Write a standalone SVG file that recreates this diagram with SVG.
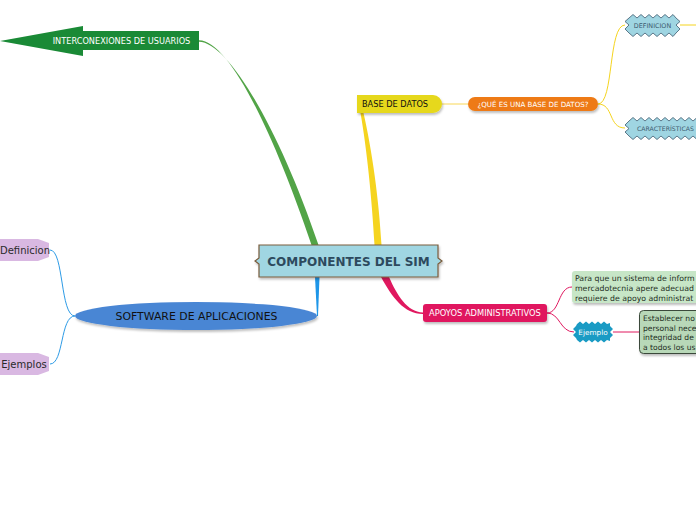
<svg xmlns="http://www.w3.org/2000/svg" width="696" height="520" viewBox="0 0 696 520">
<defs>
<filter id="sh" x="-20%" y="-20%" width="140%" height="160%">
<feDropShadow dx="1" dy="2" stdDeviation="1" flood-color="#000" flood-opacity="0.25"/>
</filter>
</defs>
<style>
text{font-family:"DejaVu Sans","Liberation Sans",sans-serif;}
.w{fill:#fff;}
.thin{fill:none;stroke-width:1;}
</style>
<rect width="696" height="520" fill="#fff"/>
<g id="connectors">
<path d="M199,40.3 C228,40 272,128 311.5,245 L318.5,245 C279,128 228,42 199,41.7 Z" fill="#52a447"/>
<path d="M360.5,113 C367,150 372,200 374.5,245 L381.5,245 C379,200 372,150 363.5,113 Z" fill="#f5d41f"/>
<path d="M315,277 L319.5,277 L318,316 L317,316 Z" fill="#1e96e8"/>
<path d="M381,277 C392,297 404,314 423,314 L423,312.5 C407,312 397,295 389,277 Z" fill="#e0185f"/>
<path class="thin" stroke="#f8d757" d="M442,104 L468,104"/>
<path class="thin" stroke="#f5d41f" d="M598,104 C614,104 608,25 625,25"/>
<path class="thin" stroke="#f5d41f" d="M598,104 C614,104 608,128 625,128"/>
<path class="thin" stroke="#f5d41f" d="M680,25 L696,25"/>
<path class="thin" stroke="#2d9be6" d="M75,316 C60,316 64,250 50,250"/>
<path class="thin" stroke="#2d9be6" d="M75,316 C60,316 64,364 50,364"/>
<path class="thin" stroke="#e0185f" d="M547,313 C560,313 558,287 572,287"/>
<path class="thin" stroke="#e0185f" d="M547,313 C560,313 560,332 574,332"/>
<path class="thin" stroke="#e0185f" d="M613,332 L640,332"/>
</g>
<g id="central">
<path d="M259,245 H438 V258 L442,261 L438,264 V277 H259 V264 L255,261 L259,258 Z" fill="#a0d6e2" stroke="#7a5c3c" stroke-width="1.2" filter="url(#sh)"/>
<text x="348.5" y="265.5" text-anchor="middle" font-size="12" font-weight="bold" fill="#2d4a5e">COMPONENTES DEL SIM</text>
</g>
<g id="interconexiones">
<path d="M0,41 L83,26 V31 H199 V50 H83 V56 Z" fill="#1a8a36"/>
<text x="121.5" y="44" text-anchor="middle" font-size="8.2" class="w">INTERCONEXIONES DE USUARIOS</text>
</g>
<g id="base-datos">
<path d="M357,95 H433 A9,9 0 0 1 442,104 A9,9 0 0 1 433,113 H357 Z" fill="#e6d81c" filter="url(#sh)"/>
<text x="362" y="107" font-size="8.2" fill="#111">BASE DE DATOS</text>
</g>
<g id="que-es">
<rect x="468" y="97" width="130" height="14" rx="7" fill="#ee7a12" filter="url(#sh)"/>
<text x="533" y="106.5" text-anchor="middle" font-size="7.1" class="w">¿QUÉ ES UNA BASE DE DATOS?</text>
</g>
<g id="definicion-bd">
<polygon points="629,18 633,14.5 637,18 641,14.5 645,18 649,14.5 653,18 657,14.5 661,18 665,14.5 669,18 673,14.5 676,18 680,21.5 676,25 680,29 676,33 673,36.5 669,33 665,36.5 661,33 657,36.5 653,33 649,36.5 645,33 641,36.5 637,33 633,36.5 629,33 625,29 629,25 625,21.5" fill="#9fd5e2" stroke="#3d5a6e" stroke-width="0.8"/>
<text x="652.5" y="28.2" text-anchor="middle" font-size="6.4" fill="#3d5a6e">DEFINICION</text>
</g>
<g id="caracteristicas">
<polygon points="629,121 633,117.5 637,121 641,117.5 645,121 649,117.5 653,121 657,117.5 661,121 665,117.5 669,121 673,117.5 677,121 681,117.5 685,121 689,117.5 693,121 697,117.5 701,121 701,136 697,139.5 693,136 689,139.5 685,136 681,139.5 677,136 673,139.5 669,136 665,139.5 661,136 657,139.5 653,136 649,139.5 645,136 641,139.5 637,136 633,139.5 629,136 625,132 629,128.5 625,125" fill="#9fd5e2" stroke="#3d5a6e" stroke-width="0.8"/>
<text x="637" y="131.2" font-size="6.2" fill="#3d5a6e">CARACTERÍSTICAS</text>
</g>
<g id="software">
<ellipse cx="196" cy="316" rx="121" ry="14" fill="#4a86d4" filter="url(#sh)"/>
<text x="196.5" y="320" text-anchor="middle" font-size="10.9" fill="#111">SOFTWARE DE APLICACIONES</text>
</g>
<g id="definicion">
<polygon points="-8,250 -2,239 38,239 49,243 49,257 38,261 -2,261" fill="#d9b8e2"/>
<text x="0" y="253.5" font-size="10" fill="#2a2a2a">Definicion</text>
</g>
<g id="ejemplos">
<polygon points="-8,364 -2,353 38,353 49,357 49,371 38,375 -2,375" fill="#d9b8e2"/>
<text x="24" y="367.5" text-anchor="middle" font-size="10" fill="#2a2a2a">Ejemplos</text>
</g>
<g id="apoyos">
<rect x="423" y="304" width="124" height="18" rx="3" fill="#e0185f" filter="url(#sh)"/>
<text x="485" y="316" text-anchor="middle" font-size="8.3" class="w">APOYOS ADMINISTRATIVOS</text>
</g>
<g id="para-que">
<rect x="572" y="271" width="132" height="32" rx="3" fill="#c7e6c7" filter="url(#sh)"/>
<text font-size="7.8" fill="#1e2e1e"><tspan x="575" y="281">Para que un sistema de inform</tspan><tspan x="575" y="291">mercadotecnia apere adecuad</tspan><tspan x="575" y="301">requiere de apoyo administrat</tspan></text>
</g>
<g id="ejemplo">
<polygon points="577,324 580,321.5 583,324 586,321.5 589,324 592,321.5 595,324 598,321.5 601,324 604,321.5 607,324 610,323 610,326 613,329 610,332 613,335 610,338 610,341 607,340 604,342.5 601,340 598,342.5 595,340 592,342.5 589,340 586,342.5 583,340 580,342.5 577,340 576,338 573,335 576,332 573,329 576,326" fill="#1a9bc4"/>
<text x="593" y="334.5" text-anchor="middle" font-size="7.3" class="w">Ejemplo</text>
</g>
<g id="establecer">
<rect x="639.5" y="310.5" width="70" height="43" rx="4" fill="#b8d8b8" stroke="#3b4a3b" stroke-width="1" filter="url(#sh)"/>
<text font-size="7.6" fill="#1e2e1e"><tspan x="643" y="321">Establecer no</tspan><tspan x="643" y="330.5">personal nece</tspan><tspan x="643" y="340">integridad de</tspan><tspan x="643" y="349.5">a todos los us</tspan></text>
</g>
</svg>
